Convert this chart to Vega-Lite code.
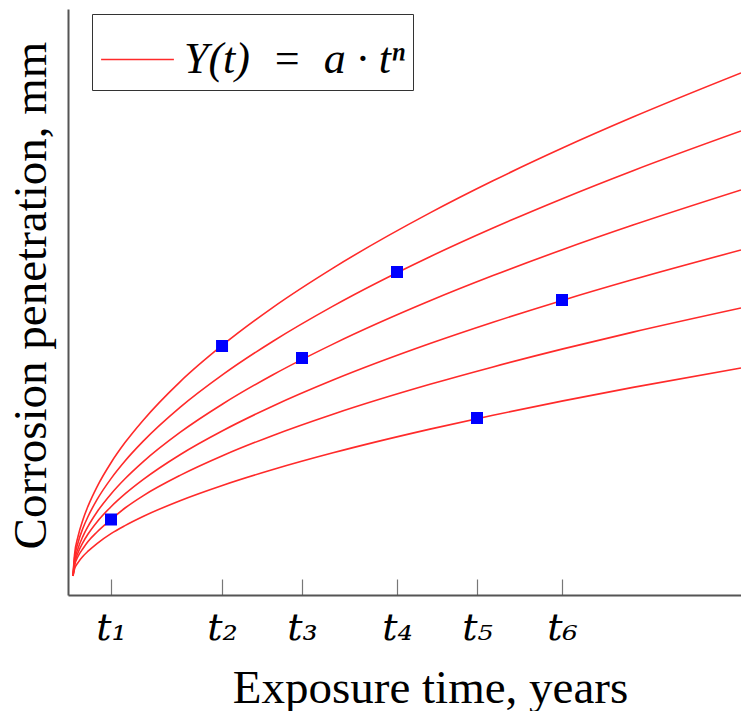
{
  "$schema": "https://vega.github.io/schema/vega-lite/v6.json",
  "width": 673,
  "height": 586,
  "autosize": {"type": "none"},
  "padding": {"left": 68, "top": 9, "right": 0, "bottom": 116},
  "background": "white",
  "config": {"view": {"stroke": null}},
  "datasets": {
    "curves": [
      {"c":1,"x":0,"y":0},{"c":1,"x":0.0225,"y":0.422},{"c":1,"x":0.075,"y":0.79},{"c":1,"x":0.1497,"y":1.131},{"c":1,"x":0.225,"y":1.398},{"c":1,"x":0.3593,"y":1.784},{"c":1,"x":0.569,"y":2.266},{"c":1,"x":0.7784,"y":2.668},{"c":1,"x":1.048,"y":3.112},{"c":1,"x":1.602,"y":3.884},{"c":1,"x":2.246,"y":4.626},{"c":1,"x":2.994,"y":5.374},{"c":1,"x":3.892,"y":6.158},{"c":1,"x":5.344,"y":7.262},{"c":1,"x":6.287,"y":7.904},{"c":1,"x":7.335,"y":8.564},{"c":1,"x":8.383,"y":9.178},{"c":1,"x":10,"y":10.06},
      {"c":2,"x":0,"y":0},{"c":2,"x":0.0225,"y":0.351},{"c":2,"x":0.075,"y":0.666},{"c":2,"x":0.1497,"y":0.96},{"c":2,"x":0.225,"y":1.19},{"c":2,"x":0.3593,"y":1.527},{"c":2,"x":0.569,"y":1.948},{"c":2,"x":0.7784,"y":2.3},{"c":2,"x":1.048,"y":2.692},{"c":2,"x":1.602,"y":3.372},{"c":2,"x":2.246,"y":4.032},{"c":2,"x":2.994,"y":4.696},{"c":2,"x":3.892,"y":5.398},{"c":2,"x":5.344,"y":6.386},{"c":2,"x":6.287,"y":6.96},{"c":2,"x":7.335,"y":7.552},{"c":2,"x":8.383,"y":8.106},{"c":2,"x":10,"y":8.9},
      {"c":3,"x":0,"y":0},{"c":3,"x":0.0225,"y":0.287},{"c":3,"x":0.075,"y":0.548},{"c":3,"x":0.1497,"y":0.799},{"c":3,"x":0.225,"y":0.994},{"c":3,"x":0.3593,"y":1.281},{"c":3,"x":0.569,"y":1.642},{"c":3,"x":0.7784,"y":1.945},{"c":3,"x":1.048,"y":2.284},{"c":3,"x":1.602,"y":2.872},{"c":3,"x":2.246,"y":3.446},{"c":3,"x":2.994,"y":4.026},{"c":3,"x":3.892,"y":4.638},{"c":3,"x":5.344,"y":5.504},{"c":3,"x":6.287,"y":6.008},{"c":3,"x":7.335,"y":6.53},{"c":3,"x":8.383,"y":7.018},{"c":3,"x":10,"y":7.72},
      {"c":4,"x":0,"y":0},{"c":4,"x":0.0225,"y":0.242},{"c":4,"x":0.075,"y":0.464},{"c":4,"x":0.1497,"y":0.674},{"c":4,"x":0.225,"y":0.84},{"c":4,"x":0.3593,"y":1.082},{"c":4,"x":0.569,"y":1.386},{"c":4,"x":0.7784,"y":1.642},{"c":4,"x":1.048,"y":1.928},{"c":4,"x":1.602,"y":2.426},{"c":4,"x":2.246,"y":2.91},{"c":4,"x":2.994,"y":3.4},{"c":4,"x":3.892,"y":3.918},{"c":4,"x":5.344,"y":4.648},{"c":4,"x":6.287,"y":5.074},{"c":4,"x":7.335,"y":5.516},{"c":4,"x":8.383,"y":5.928},{"c":4,"x":10,"y":6.52},
      {"c":5,"x":0,"y":0},{"c":5,"x":0.0225,"y":0.205},{"c":5,"x":0.075,"y":0.39},{"c":5,"x":0.1497,"y":0.55},{"c":5,"x":0.225,"y":0.69},{"c":5,"x":0.3593,"y":0.88},{"c":5,"x":0.569,"y":1.13},{"c":5,"x":0.7784,"y":1.36},{"c":5,"x":1.048,"y":1.604},{"c":5,"x":1.602,"y":2.012},{"c":5,"x":2.246,"y":2.41},{"c":5,"x":2.994,"y":2.812},{"c":5,"x":3.892,"y":3.236},{"c":5,"x":5.344,"y":3.834},{"c":5,"x":6.287,"y":4.182},{"c":5,"x":7.335,"y":4.542},{"c":5,"x":8.383,"y":4.878},{"c":5,"x":10,"y":5.36},
      {"c":6,"x":0,"y":0},{"c":6,"x":0.0225,"y":0.137},{"c":6,"x":0.075,"y":0.268},{"c":6,"x":0.1497,"y":0.396},{"c":6,"x":0.225,"y":0.496},{"c":6,"x":0.3593,"y":0.65},{"c":6,"x":0.569,"y":0.848},{"c":6,"x":0.7784,"y":1.008},{"c":6,"x":1.048,"y":1.19},{"c":6,"x":1.602,"y":1.506},{"c":6,"x":2.246,"y":1.816},{"c":6,"x":2.994,"y":2.13},{"c":6,"x":3.892,"y":2.464},{"c":6,"x":5.344,"y":2.938},{"c":6,"x":6.287,"y":3.216},{"c":6,"x":7.335,"y":3.502},{"c":6,"x":8.383,"y":3.772},{"c":6,"x":10,"y":4.16}
    ],
    "points": [
      {"t":"t1","x":0.569,"y":1.13},
      {"t":"t2","x":2.231,"y":4.6},
      {"t":"t3","x":3.428,"y":4.36},
      {"t":"t4","x":4.85,"y":6.08},
      {"t":"t5","x":6.048,"y":3.16},
      {"t":"t6","x":7.32,"y":5.52}
    ]
  },
  "layer": [
    {
      "data": {"name": "curves"},
      "mark": {"type": "line", "interpolate": "monotone", "strokeWidth": 1.6},
      "encoding": {
        "x": {
          "field": "x", "type": "quantitative",
          "scale": {"domain": [-0.075, 10], "nice": false, "zero": false},
          "axis": {
            "values": [0.569, 2.231, 3.428, 4.85, 6.048, 7.32],
            "labelExpr": "datum.value < 1 ? 't₁' : datum.value < 3 ? 't₂' : datum.value < 4 ? 't₃' : datum.value < 5.5 ? 't₄' : datum.value < 7 ? 't₅' : 't₆'",
            "grid": false,
            "tickSize": -16,
            "tickColor": "#777777",
            "tickWidth": 1.2,
            "domainColor": "#555555",
            "domainWidth": 2,
            "labelFont": "DejaVu Serif",
            "labelFontStyle": "italic",
            "labelFontSize": 38,
            "labelColor": "#000000",
            "labelPadding": 60,
            "labelBaseline": "alphabetic",
            "labelFlush": false,
            "labelOverlap": false,
            "title": "Exposure time, years",
            "titleFont": "Liberation Serif",
            "titleFontSize": 47,
            "titleFontWeight": "normal",
            "titleColor": "#000000",
            "titleX": 362,
            "titleY": 107,
            "titleAlign": "center",
            "titleBaseline": "alphabetic"
          }
        },
        "y": {
          "field": "y", "type": "quantitative",
          "scale": {"domain": [-0.38, 11.34], "nice": false, "zero": false},
          "axis": {
            "ticks": false,
            "labels": false,
            "grid": false,
            "domainColor": "#555555",
            "domainWidth": 2,
            "title": "Corrosion penetration, mm",
            "titleFont": "Liberation Serif",
            "titleFontSize": 47,
            "titleFontWeight": "normal",
            "titleColor": "#000000",
            "titleAngle": -90,
            "titleX": -23,
            "titleY": 286,
            "titleAlign": "center",
            "titleBaseline": "alphabetic"
          }
        },
        "detail": {"field": "c", "type": "nominal"},
        "color": {
          "datum": "Y(t)\u00a0\u00a0=\u00a0\u00a0a · tⁿ\u00a0",
          "type": "nominal",
          "scale": {"range": ["#ff2a2a"]},
          "legend": {
            "title": null,
            "orient": "none",
            "legendX": 24,
            "legendY": 5,
            "symbolType": "stroke",
            "symbolSize": 5300,
            "symbolStrokeWidth": 1.6,
            "labelFont": "Liberation Serif",
            "labelFontStyle": "italic",
            "labelFontSize": 44,
            "labelColor": "#000000",
            "labelOffset": 9,
            "labelLimit": 500,
            "padding": 8,
            "strokeColor": "#333333",
            "fillColor": "white"
          }
        }
      }
    },
    {
      "data": {"name": "points"},
      "mark": {"type": "square", "size": 144, "filled": true, "color": "#0000ff", "opacity": 1},
      "encoding": {
        "x": {"field": "x", "type": "quantitative"},
        "y": {"field": "y", "type": "quantitative"}
      }
    }
  ]
}
